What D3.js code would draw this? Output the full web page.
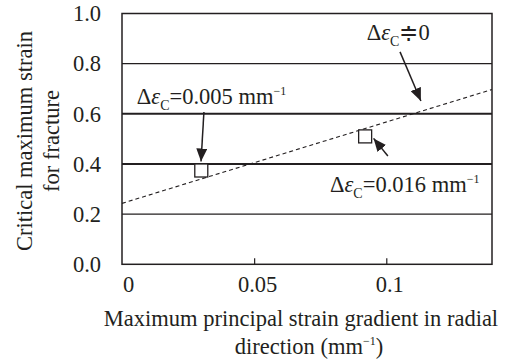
<!DOCTYPE html>
<html><head><meta charset="utf-8">
<script src="https://cdn.jsdelivr.net/npm/d3@7"></script>
<style>body{margin:0;background:#fff;}</style></head>
<body><svg id="c" width="524" height="363" font-family="Liberation Serif"></svg>
<script>
const xTicks = [0, 0.05, 0.1];
const xTickLabels = ["0", "0.05", "0.1"];
const yTicks = [0, 0.2, 0.4, 0.6, 0.8, 1.0];
const yTickLabels = ["0.0", "0.2", "0.4", "0.6", "0.8", "1.0"];
const gridValues = [0.2, 0.4, 0.6, 0.8];
const pointX = [0.030, 0.092];
const pointY = [0.374, 0.510];
const fitX = [0, 0.14];
const fitY = [0.243, 0.697];

const FONT = "Liberation Serif";
const FS = 22.5;
const svg = d3.select("#c");
const ink = "#231f20";
const x = d3.scaleLinear().domain([0, 0.14]).range([122, 492]);
const y = d3.scaleLinear().domain([0, 1]).range([264.3, 13.5]);

// grid lines
svg.selectAll("line.grid").data(gridValues).enter().append("line")
  .attr("x1", x(0)).attr("x2", x(0.14))
  .attr("y1", d => y(d)).attr("y2", d => y(d))
  .attr("stroke", ink)
  .attr("stroke-width", d => (d === 0.4 || d === 0.6) ? 2 : 1.3);

// frame
svg.append("rect").attr("x", x(0)).attr("y", y(1)).attr("width", x(0.14) - x(0)).attr("height", y(0) - y(1))
  .attr("fill", "none").attr("stroke", ink).attr("stroke-width", 1.5);

// x ticks (inward)
const xAxis = d3.axisBottom(x).tickValues(xTicks).tickSize(-6).tickFormat((d, i) => xTickLabels[i]).tickPadding(12);
const gx = svg.append("g").attr("transform", `translate(0,${y(0)})`).call(xAxis)
  .attr("font-family", FONT).attr("font-size", FS);
gx.select(".domain").remove();
gx.selectAll(".tick line").attr("stroke", ink).attr("stroke-width", 1.2).filter(d => d === 0).remove();
gx.selectAll(".tick text").attr("fill", ink).attr("dx", (d) => d === 0 ? 6 : 3);

// y axis labels
const yAxis = d3.axisLeft(y).tickValues(yTicks).tickSize(0).tickPadding(21).tickFormat((d, i) => yTickLabels[i]);
const gy = svg.append("g").attr("transform", `translate(${x(0)},0)`).call(yAxis)
  .attr("font-family", FONT).attr("font-size", FS);
gy.select(".domain").remove();
gy.selectAll(".tick text").attr("fill", ink);

// dashed fit line
svg.append("path").datum(fitX.map((d, i) => [d, fitY[i]]))
  .attr("d", d3.line().x(d => x(d[0])).y(d => y(d[1])))
  .attr("fill", "none").attr("stroke", ink).attr("stroke-width", 1.1).attr("stroke-dasharray", "4,3");

// points
const s = 13;
svg.selectAll("rect.pt").data(pointX).enter().append("rect")
  .attr("x", (d) => x(d) - s / 2).attr("y", (d, i) => y(pointY[i]) - s / 2)
  .attr("width", s).attr("height", s).attr("fill", "#fff").attr("stroke", ink).attr("stroke-width", 1.3);

// arrows
svg.append("defs").append("marker").attr("id", "ah").attr("viewBox", "0 0 13 11")
  .attr("refX", 13).attr("refY", 5.5).attr("markerWidth", 13).attr("markerHeight", 11)
  .attr("markerUnits", "userSpaceOnUse").attr("orient", "auto")
  .append("path").attr("d", "M0,0 L13,5.5 L0,11 Z").attr("fill", ink);
const arrows = [
  [[0.031, 0.607], [0.0299, 0.410]],
  [[0.1052, 0.847], [0.1131, 0.651]],
  [[0.1006, 0.432], [0.0952, 0.502]]
];
arrows.forEach(a => {
  svg.append("line").attr("x1", x(a[0][0])).attr("y1", y(a[0][1]))
    .attr("x2", x(a[1][0])).attr("y2", y(a[1][1]))
    .attr("stroke", ink).attr("stroke-width", 1.5).attr("marker-end", "url(#ah)");
});

// annotation labels
function label(px, py, rest, sup) {
  const t = svg.append("text").attr("x", x(px)).attr("y", y(py))
    .attr("font-family", FONT).attr("font-size", FS).attr("fill", ink);
  t.append("tspan").text("Δ");
  t.append("tspan").attr("font-style", "italic").text("ε");
  t.append("tspan").attr("font-size", 14).attr("dy", 6).text("C");
  t.append("tspan").attr("dy", -6).text(rest);
  if (sup) t.append("tspan").attr("font-size", 12).attr("dy", -9).text("−1");
  return t;
}
label(0.0056, 0.638, "=0.005 mm", true);
label(0.0926, 0.894, "≑0", false);
label(0.0787, 0.288, "=0.016 mm", true);

// axis titles
const yt = svg.append("text").attr("transform", "translate(0,141) rotate(-90)")
  .attr("text-anchor", "middle").attr("font-family", FONT).attr("font-size", FS).attr("fill", ink);
yt.append("tspan").attr("x", 0).attr("y", 32).text("Critical maximum strain");
yt.append("tspan").attr("x", 0).attr("y", 59).text("for fracture");

const xt = svg.append("text").attr("text-anchor", "middle").attr("font-family", FONT).attr("font-size", FS).attr("fill", ink);
xt.append("tspan").attr("x", 301).attr("y", 326).text("Maximum principal strain gradient in radial");
const l2 = xt.append("tspan").attr("x", 309).attr("y", 354);
l2.append("tspan").text("direction (mm");
l2.append("tspan").attr("font-size", 12).attr("dy", -9).text("−1");
l2.append("tspan").attr("dy", 9).text(")");
</script></body></html>
